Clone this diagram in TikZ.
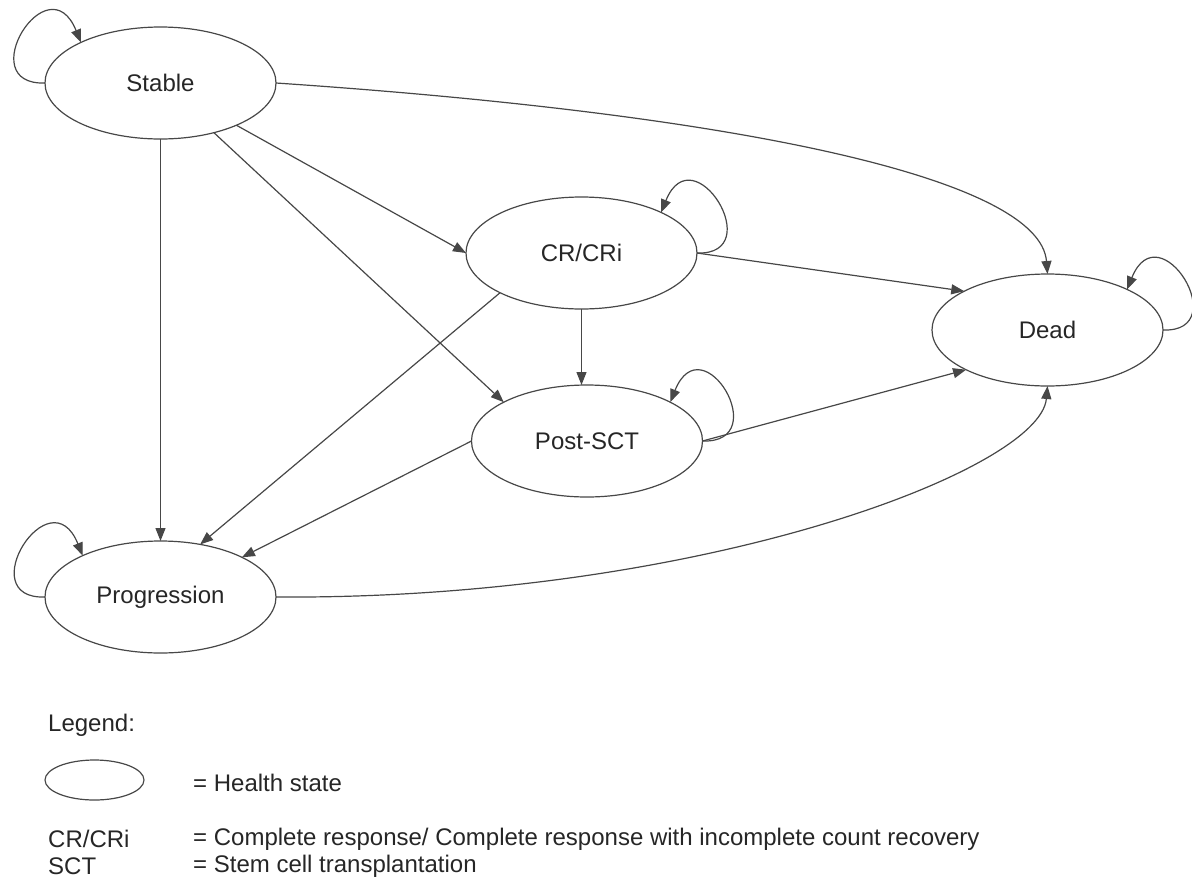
\documentclass[tikz,border=0pt]{standalone}
\usepackage{fontspec}
\setmainfont{Liberation Sans}
\usetikzlibrary{shapes.geometric,arrows.meta}
\definecolor{linec}{HTML}{474747}
\definecolor{textc}{HTML}{262626}
\begin{document}
\begin{tikzpicture}[x=1pt,y=1pt,
  state/.style={ellipse,draw=linec,line width=1.2pt,minimum width=231pt,minimum height=112pt,inner sep=0pt,outer sep=0pt,text=textc,font=\fontsize{24}{28}\selectfont},
  legtext/.style={anchor=west,inner sep=0pt,text=textc,font=\fontsize{24}{28}\selectfont},
  conn/.style={draw=linec,line width=1.2pt,-{Triangle[length=13pt,width=10pt]}},
  loopl/.style={conn,out=182,in=112,out distance=74pt,in distance=88pt},
  loopr/.style={conn,out=-2,in=68,out distance=72pt,in distance=86pt}]
\useasboundingbox (0,0) rectangle (1192,-879);
\node[state] (Stable) at (160.5,-83) {Stable};
\node[state] (CR) at (581.5,-253) {CR/CRi};
\node[state] (Post) at (587,-441) {Post-SCT};
\node[state] (Dead) at (1047.5,-330) {Dead};
\node[state] (Prog) at (160.5,-597) {Progression};
% self loops
\draw[loopl] (Stable.west) to (Stable.153);
\draw[loopl] (Prog.west) to (Prog.152);
\draw[loopr] (CR.east) to (CR.27);
\draw[loopr] (Post.east) to (Post.25);
\draw[loopr] (Dead.east) to (Dead.27);
% transitions
\draw[conn] (Stable) -- (CR.west);
\draw[conn] (Stable) -- (Post.155);
\draw[conn] (Stable) -- (Prog);
\draw[conn] (Stable.east) .. controls (750,-115) and (1040,-180) .. (Dead.north);
\draw[conn] (CR.206) -- (Prog.53);
\draw[conn] (CR.south) -- (CR.south |- Post.north);
\draw[conn] (CR.east) -- (Dead.155);
\draw[conn] (Post.west) -- (Prog.26);
\draw[conn] (Post.east) -- (Dead.206);
\draw[conn] (Prog.east) .. controls (700,-600) and (1040,-470) .. (Dead.south);
% legend
\node[legtext] (leg) at (48,-725) {Legend:};
\node[ellipse,draw=linec,line width=1.2pt,minimum width=99pt,minimum height=40pt,inner sep=0pt] (legell) at (94.5,-780) {};
\node[legtext] (legHS) at (193,-783) {= Health state};
\node[legtext] (legCR) at (48,-839) {CR/CRi};
\node[legtext] (legCRd) at (193,-839) {= Complete response/ Complete response with incomplete count recovery};
\node[legtext] (legSCT) at (48,-866) {SCT};
\node[legtext] (legSCTd) at (193,-866) {= Stem cell transplantation};
\end{tikzpicture}
\end{document}
